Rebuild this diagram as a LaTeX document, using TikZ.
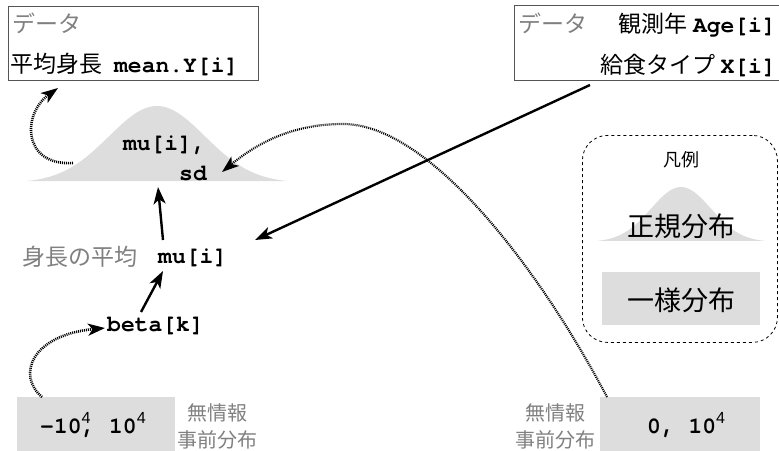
\documentclass[tikz,border=0pt]{standalone}
\usepackage{fontspec}
\setmainfont{Noto Sans CJK JP}
\setmonofont{TeX Gyre Cursor}
\setsansfont{Liberation Sans}
\usetikzlibrary{arrows.meta}
\definecolor{boxgray}{HTML}{DDDDDD}
\definecolor{txtgray}{HTML}{808080}
\definecolor{boxline}{HTML}{555555}
\begin{document}
\begin{tikzpicture}[x=1pt,y=-1pt,
  txt/.style={inner sep=0pt, font=\fontsize{23}{28}\selectfont},
  code/.style={inner sep=0pt, font=\fontsize{23}{28}\selectfont\ttfamily\bfseries},
  note/.style={inner sep=0pt, text=txtgray, font=\fontsize{20}{25}\selectfont, anchor=base},
  databox/.style={draw=boxline, line width=0.9pt, inner sep=0pt, anchor=north west},
  graybox/.style={fill=boxgray, inner sep=0pt, anchor=north west},
  arr/.style={line width=2.4pt, -{Stealth[length=17pt,width=12pt,inset=4.5pt]}},
  darr/.style={line width=2.6pt, dash pattern=on 1pt off 1pt, -{Stealth[length=17pt,width=12pt,inset=4.5pt]}},
]
\useasboundingbox (0,0) rectangle (779,450);

% data boxes
\node[databox, minimum width=250pt, minimum height=74pt] (ybox) at (8,6) {};
\node[txt, text=txtgray, anchor=base west] (ylab) at (12,32) {データ};
\node[txt, anchor=base west] (ytxt) at (10,72) {平均身長\hspace{12pt}{\ttfamily\bfseries mean.Y[i]}};

\node[databox, minimum width=270pt, minimum height=75pt] (xbox) at (514,5) {};
\node[txt, text=txtgray, anchor=base west] (xlab) at (518,32) {データ};
\node[txt, anchor=base east] (xage) at (776,32) {観測年 {\ttfamily\bfseries Age[i]}};
\node[txt, anchor=base east] (xtype) at (776,73) {給食タイプ {\ttfamily\bfseries X[i]}};

% normal distribution for mean.Y
\fill[boxgray] plot[domain=-130:130, samples=90] ({157+\x},{183-77*exp(-((\x/48)^2)/2)}) -- cycle;
\node[code, anchor=base east] (par1) at (206,150) {mu[i],};
\node[code, anchor=base east] (par2) at (207,180) {sd};

% mu and beta
\node[code, anchor=base west] (mui) at (158,263) {mu[i]};
\node[txt, text=txtgray, anchor=base west] (mulab) at (22,265) {身長の平均};
\node[code, anchor=base west] (beta) at (107,331) {beta[k]};

% priors
\node[graybox, minimum width=158pt, minimum height=60pt] (prior1) at (17,397) {};
\node[code, anchor=base west] (prior1txt) at (40,433) {-10\rlap{\textsuperscript{\mdseries\sffamily 4}}, 10\textsuperscript{\mdseries\sffamily 4}};
\node[note] (n1a) at (217,420) {無情報};
\node[note] (n1b) at (217,447) {事前分布};

\node[graybox, minimum width=160pt, minimum height=60pt] (prior2) at (600,397) {};
\node[code, anchor=base west] (prior2txt) at (647,433) {0, 10\textsuperscript{\mdseries\sffamily 4}};
\node[note] (n2a) at (555,420) {無情報};
\node[note] (n2b) at (555,447) {事前分布};

% legend
\node[draw, dashed, line width=0.8pt, rounded corners=25pt, inner sep=0pt, anchor=north west, minimum width=195pt, minimum height=207pt] (legend) at (582,135) {};
\node[txt, font=\fontsize{18}{22}\selectfont] (legtitle) at (681,160) {凡例};
\fill[boxgray] plot[domain=-84:84, samples=70] ({681+\x},{242-55*exp(-((\x/30)^2)/2)}) -- cycle;
\node[txt, font=\fontsize{27}{32}\selectfont] (normlab) at (681,226) {正規分布};
\node[fill=boxgray, inner sep=0pt, minimum width=158pt, minimum height=53pt] (unif) at (681,298) {};
\node[txt, font=\fontsize{27}{32}\selectfont] (uniflab) at (681,300) {一様分布};

% connectors
\coordinate (belltop) at (158,187);
\coordinate (muitop) at (163,240);
\coordinate (betatop) at (141,312);
\coordinate (muibot) at (163,271);
\coordinate (bellleft) at (73,163);
\coordinate (yboxin) at (58,88);
\coordinate (prior1top) at (42,397);
\coordinate (betaleft) at (105,328);
\coordinate (xboxout) at (590,85);
\coordinate (muiright) at (255,240);
\coordinate (prior2top) at (607,397);
\coordinate (peak) at (343,124);
\coordinate (sdright) at (222,172);

\draw[arr] (muitop) -- (belltop);
\draw[arr] (betatop) -- (muibot);
\draw[arr] (xboxout) -- (muiright);
\draw[darr] (bellleft) .. controls (22,166) and (22,114) .. (yboxin);
\draw[darr] (prior1top) .. controls (16,375) and (32,335) .. (betaleft);
\draw[darr, line width=2.2pt] (prior2top) .. controls (540,270) and (430,124) .. (peak) .. controls (290,124) and (255,145) .. (sdright);
\end{tikzpicture}
\end{document}
